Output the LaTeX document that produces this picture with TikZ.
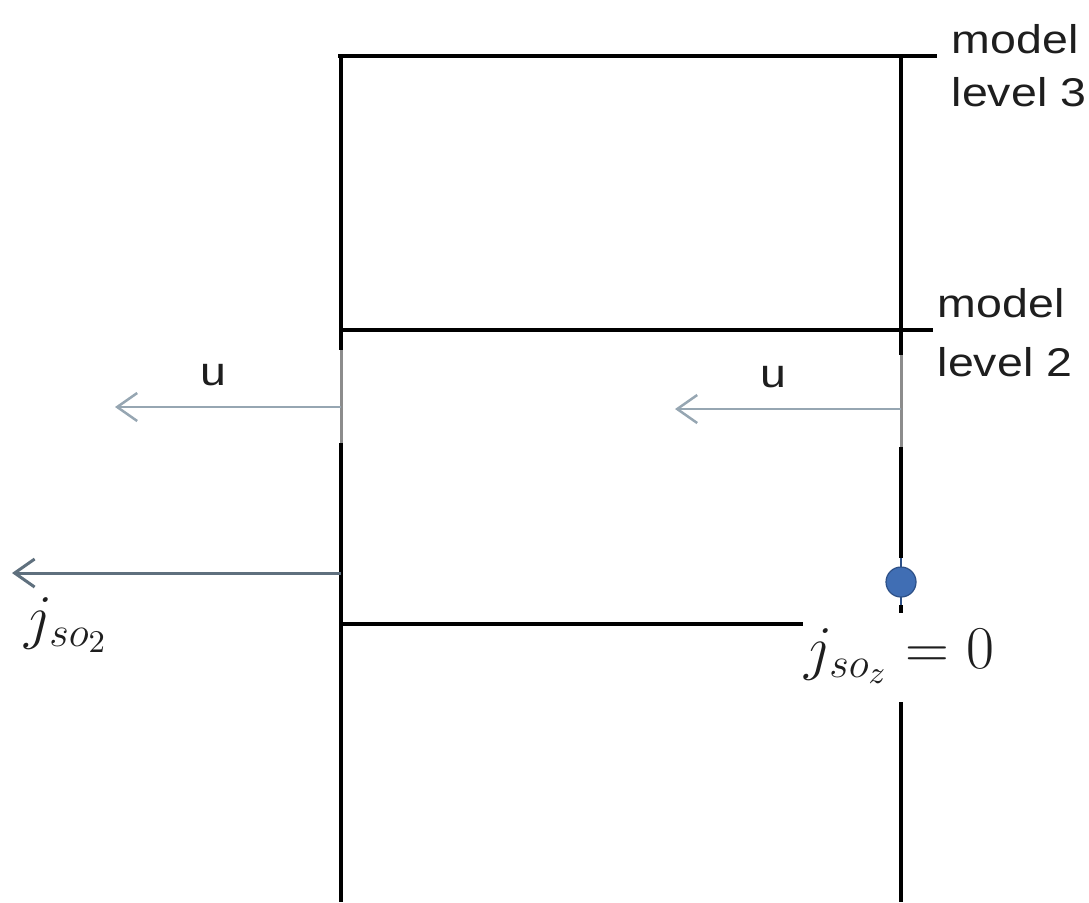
\documentclass[tikz,border=0pt]{standalone}
\usepackage{fontspec}
\newfontfamily\lab[FakeStretch=1.16]{Liberation Sans}
\usetikzlibrary{arrows.meta}
\definecolor{ucol}{RGB}{150,166,178}
\definecolor{jcol}{RGB}{95,112,126}
\definecolor{gseg}{RGB}{140,140,140}
\definecolor{txtcol}{RGB}{30,30,30}
\definecolor{dotfill}{RGB}{64,110,180}
\definecolor{dotedge}{RGB}{45,80,135}
\begin{document}
\begin{tikzpicture}[x=0.01cm,y=-0.01cm,
  levelline/.style={draw=black,line width=0.04cm},
  greyseg/.style={draw=gseg,line width=0.03cm},
  uarrow/.style={draw=ucol,line width=0.025cm,-{Straight Barb[length=0.2cm,width=0.28cm]}},
  jarrow/.style={draw=jcol,line width=0.03cm,-{Straight Barb[length=0.2cm,width=0.28cm]}},
  lbl/.style={font=\lab\fontsize{11.4}{13}\selectfont,text=txtcol,inner sep=0pt,anchor=base west},
  ulbl/.style={font=\lab\fontsize{11.4}{13}\selectfont,text=txtcol,inner sep=0pt,anchor=base},
  mathlbl/.style={font=\fontsize{17.8}{21}\selectfont,text=txtcol,inner sep=0pt,anchor=base west},
  dotstyle/.style={circle,fill=dotfill,draw=dotedge,line width=0.012cm,minimum size=0.3cm,inner sep=0pt}]
\useasboundingbox (0,0) rectangle (1089,902);
% coordinates
\coordinate (t1) at (338,56);   \coordinate (t2) at (937,56);
\coordinate (m1) at (341,330);  \coordinate (m2) at (933,330);
\coordinate (b1) at (341,624);  \coordinate (b2) at (803,624);
\coordinate (L0) at (341,56);   \coordinate (L1) at (341,902);
\coordinate (Lg1) at (341,350); \coordinate (Lg2) at (341,443);
\coordinate (R0) at (901,56);   \coordinate (Rg1) at (901,355);
\coordinate (Rg2) at (901,447); \coordinate (Rd1) at (901,558);
\coordinate (Rd2) at (901,605); \coordinate (Rd3) at (901,613);
\coordinate (Rb1) at (901,702); \coordinate (Rb2) at (901,902);
\coordinate (uL0) at (341,407); \coordinate (uL1) at (115,407);
\coordinate (uR0) at (901,409); \coordinate (uR1) at (675,409);
\coordinate (j0) at (341,573);  \coordinate (j1) at (12,573);
% level lines
\draw[levelline] (t1) -- (t2);
\draw[levelline] (m1) -- (m2);
\draw[levelline] (b1) -- (b2);
% left column
\draw[levelline] (L0) -- (L1);
\draw[draw=white,line width=0.045cm] (Lg1) -- (Lg2);
\draw[greyseg] (Lg1) -- (Lg2);
% right column
\draw[levelline] (R0) -- (Rg1);
\draw[greyseg] (Rg1) -- (Rg2);
\draw[levelline] (Rg2) -- (Rd1);
\draw[draw=dotedge,line width=0.012cm] (Rd1) -- (Rd2);
\draw[levelline] (Rd2) -- (Rd3);
\draw[levelline] (Rb1) -- (Rb2);
\node[dotstyle] (dot) at (901,582) {};
% arrows
\draw[uarrow] (uL0) -- (uL1);
\draw[uarrow] (uR0) -- (uR1);
\draw[jarrow] (j0) -- (j1);
% labels
\node[ulbl] (uL) at (213,385) {u};
\node[ulbl] (uR) at (773,387) {u};
\node[lbl] (m3a) at (951,53) {model};
\node[lbl] (m3b) at (951,106) {level 3};
\node[lbl] (m2a) at (937,317) {model};
\node[lbl] (m2b) at (937,376) {level 2};
\node[mathlbl] (jL) at (24,637) {$j_{so_2}$};
\node[mathlbl] (jR) at (804,668) {$j_{so_z} = 0$};
\end{tikzpicture}
\end{document}
